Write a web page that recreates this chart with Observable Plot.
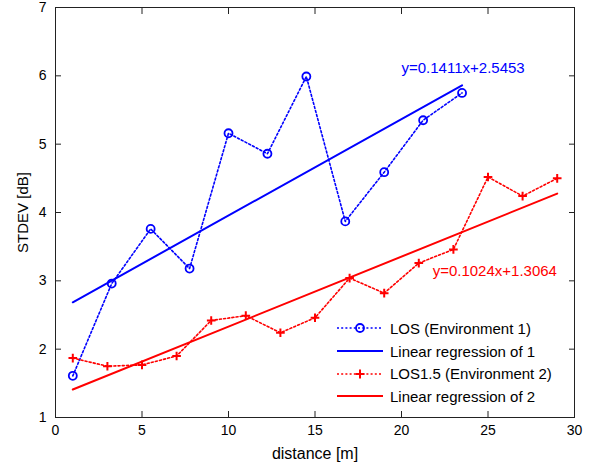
<!DOCTYPE html>
<html>
<head>
<meta charset="utf-8">
<script src="https://cdn.jsdelivr.net/npm/d3@7"></script>
<script src="https://cdn.jsdelivr.net/npm/@observablehq/plot@0.6"></script>
<style>
  body { margin: 0; background: #fff; font-family: "Liberation Sans", Arial, sans-serif; }
  #wrap { position: relative; width: 600px; height: 466px; }
  #legend { position: absolute; left: 337px; top: 317px; font-size: 15px; color: #000; }
  #legend .row { display: flex; align-items: center; height: 22.7px; }
  #legend svg { width: 46px; height: 20px; margin-right: 7px; }
</style>
</head>
<body>
<div id="wrap"></div>
<script>
// ---- data ----
const losX = [1, 3.25, 5.5, 7.75, 10, 12.25, 14.5, 16.75, 19, 21.25, 23.5];
const losY = [1.61, 2.96, 3.76, 3.18, 5.16, 4.86, 5.99, 3.87, 4.59, 5.35, 5.75];
const los15X = [1, 3, 5, 7, 9, 11, 13, 15, 17, 19, 21, 23, 25, 27, 29];
const los15Y = [1.87, 1.75, 1.77, 1.90, 2.42, 2.49, 2.24, 2.46, 3.04, 2.82, 3.26, 3.46, 4.52, 4.24, 4.50];
const reg1X = [1, 23.5];
const reg1Y = [2.686, 5.861];
const reg2X = [1, 29];
const reg2Y = [1.409, 4.276];
const annText = ["y=0.1411x+2.5453", "y=0.1024x+1.3064"];
const annX = [20.0, 21.8];
const annY = [6.11, 3.14];
const annColor = ["#0000ff", "#ff0000"];
const xTicks = [0, 5, 10, 15, 20, 25, 30];
const yTicks = [1, 2, 3, 4, 5, 6, 7];
const legendLabels = ["LOS (Environment 1)", "Linear regression of 1", "LOS1.5 (Environment 2)", "Linear regression of 2"];

const BLUE = "#0000ff", RED = "#ff0000";
const los = losX.map((x, i) => ({x, y: losY[i]}));
const los15 = los15X.map((x, i) => ({x, y: los15Y[i]}));
const reg1 = reg1X.map((x, i) => ({x, y: reg1Y[i]}));
const reg2 = reg2X.map((x, i) => ({x, y: reg2Y[i]}));
const ann = annText.map((t, i) => ({t, x: annX[i], y: annY[i], c: annColor[i]}));

const font = "'Liberation Sans', Arial, sans-serif";
const fmt = d3.format("d");
const chart = Plot.plot({
  width: 600,
  height: 466,
  marginLeft: 55,
  marginRight: 26,
  marginTop: 7,
  marginBottom: 49,
  style: {fontFamily: font, fontSize: "14px", color: "#000", background: "#fff"},
  x: {domain: [0, 30]},
  y: {domain: [1, 7]},
  marks: [
    Plot.frame({stroke: "#222", strokeWidth: 1}),
    Plot.axisX(xTicks, {anchor: "bottom", tickSize: 0, tickPadding: 8, fontSize: 14, tickFormat: fmt, label: null}),
    Plot.axisX(xTicks, {anchor: "bottom", tickSize: 0, text: null, fontSize: 16,
      label: "distance [m]", labelAnchor: "center", labelOffset: 41, labelArrow: "none"}),
    Plot.axisX(xTicks, {anchor: "bottom", tickSize: -6, text: null, label: null, stroke: "#222"}),
    Plot.axisX(xTicks, {anchor: "top", tickSize: -6, text: null, label: null, stroke: "#222"}),
    Plot.axisY(yTicks, {anchor: "left", tickSize: 0, tickPadding: 9, fontSize: 14, tickFormat: fmt, label: null}),
    Plot.axisY(yTicks, {anchor: "left", tickSize: 0, text: null, fontSize: 15,
      label: "STDEV [dB]", labelAnchor: "center", labelOffset: 38, labelArrow: "none"}),
    Plot.axisY(yTicks, {anchor: "left", tickSize: -6, text: null, label: null, stroke: "#222"}),
    Plot.axisY(yTicks, {anchor: "right", tickSize: -6, text: null, label: null, stroke: "#222"}),
    Plot.line(los, {x: "x", y: "y", stroke: BLUE, strokeWidth: 1.6, strokeDasharray: "2,2.2"}),
    Plot.line(reg1, {x: "x", y: "y", stroke: BLUE, strokeWidth: 2}),
    Plot.dot(los, {x: "x", y: "y", r: 4, stroke: BLUE, strokeWidth: 1.8, fill: "none"}),
    Plot.line(los15, {x: "x", y: "y", stroke: RED, strokeWidth: 1.6, strokeDasharray: "2,2.2"}),
    Plot.line(reg2, {x: "x", y: "y", stroke: RED, strokeWidth: 2}),
    Plot.dot(los15, {x: "x", y: "y", r: 2.9, symbol: "plus", stroke: RED, strokeWidth: 2, fill: "none"}),
    Plot.text(ann, {x: "x", y: "y", text: "t", fill: "c", textAnchor: "start", fontSize: 15, fontFamily: font})
  ]
});
const wrap = document.getElementById("wrap");
wrap.appendChild(chart);

// legend (inside the axes, as in the reference)
const legend = document.createElement("div");
legend.id = "legend";
const swatches = [
  `<line x1="0" y1="10" x2="46" y2="10" stroke="${BLUE}" stroke-width="1.6" stroke-dasharray="2,2.2"/><circle cx="23" cy="10" r="4" fill="none" stroke="${BLUE}" stroke-width="1.8"/>`,
  `<line x1="0" y1="10" x2="46" y2="10" stroke="${BLUE}" stroke-width="2"/>`,
  `<line x1="0" y1="10" x2="46" y2="10" stroke="${RED}" stroke-width="1.6" stroke-dasharray="2,2.2"/><path d="M18.5,10H27.5M23,5.5V14.5" stroke="${RED}" stroke-width="2"/>`,
  `<line x1="0" y1="10" x2="46" y2="10" stroke="${RED}" stroke-width="2"/>`
];
legend.innerHTML = legendLabels.map((l, i) =>
  `<div class="row"><svg viewBox="0 0 46 20">${swatches[i]}</svg><span>${l}</span></div>`).join("");
wrap.appendChild(legend);
</script>
</body>
</html>
